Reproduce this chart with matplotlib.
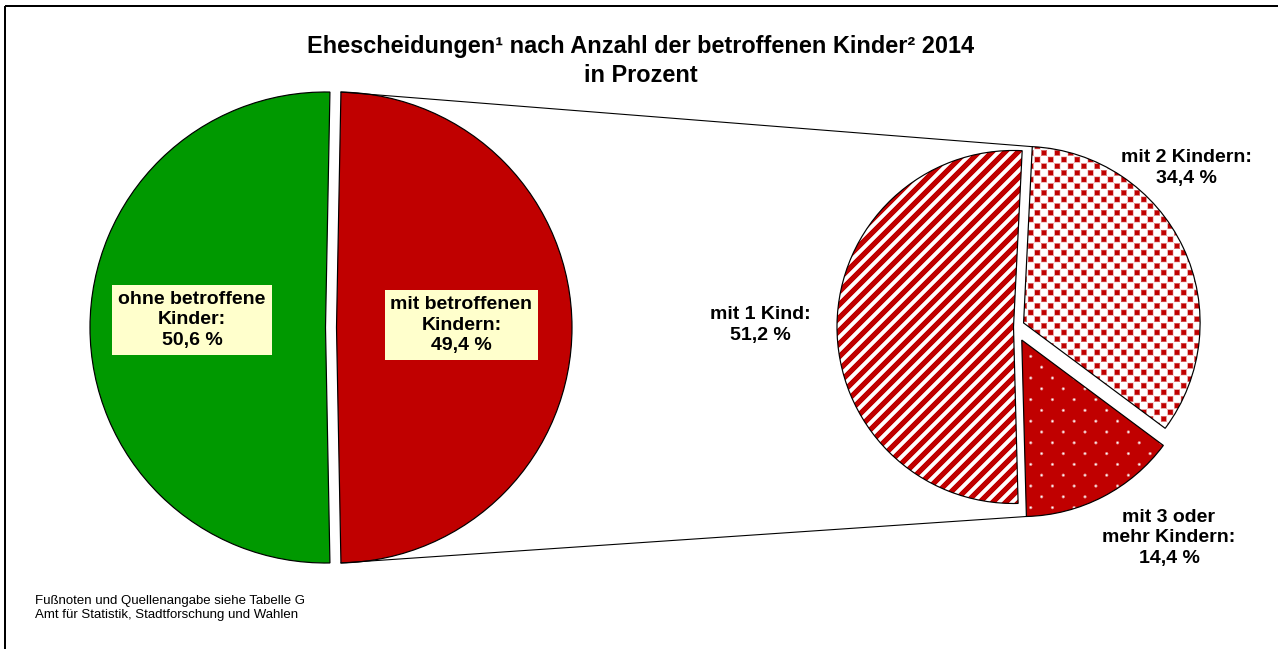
import numpy as np
import matplotlib
matplotlib.use('Agg')
import matplotlib.pyplot as plt

# ---------------- data ----------------
main_labels = ['ohne betroffene\nKinder:', 'mit betroffenen\nKindern:']
main_values = [50.6, 49.4]
sub_labels = ['mit 1 Kind:', 'mit 2 Kindern:', 'mit 3 oder\nmehr Kindern:']
sub_values = [51.2, 34.4, 14.4]
title_line1 = 'Ehescheidungen¹ nach Anzahl der betroffenen Kinder² 2014'
title_line2 = 'in Prozent'
footer_lines = ['Fußnoten und Quellenangabe siehe Tabelle G',
                'Amt für Statistik, Stadtforschung und Wahlen']


def fmt(v):
    return f'{v:.1f}'.replace('.', ',') + ' %'


# ---------------- figure ----------------
W, H = 1278, 649
DPI = 100
plt.rcParams['font.family'] = ['Liberation Sans', 'DejaVu Sans']


def pt(pixels):
    return pixels * 72.0 / DPI


fig = plt.figure(figsize=(W / DPI, H / DPI), dpi=DPI)
fig.patch.set_facecolor('white')
ax = fig.add_axes([0, 0, 1, 1])

GREEN = '#009900'
RED = '#C00000'
RED_RGB = np.array([192, 0, 0]) / 255.0
WHITE_RGB = np.array([1.0, 1.0, 1.0])

# main pie (explode given in pixels, the axes is in pixel units)
c1 = (331, H - 327.5)
r1 = 235.5
start1 = 180 - main_values[0] / sum(main_values) * 360 / 2
w_main, _ = ax.pie(main_values, colors=[GREEN, RED], startangle=start1,
                   counterclock=True, center=c1, radius=r1,
                   explode=[5.5, 5.5], frame=True,
                   wedgeprops=dict(edgecolor='black', linewidth=pt(1.2)))

# sub pie
c2 = (1015, H - 327)
r2 = 176.5
w_sub, _ = ax.pie(sub_values, colors=['white', 'white', 'white'], startangle=271.5,
                  counterclock=False, center=c2, radius=r2,
                  explode=[1.5, 9.5, 14.7], frame=True,
                  wedgeprops=dict(edgecolor='black', linewidth=pt(1.2)))

# ---------------- textures for the sub pie ----------------
Yi, Xi = np.mgrid[0:H, 0:W].astype(float) + 0.5


def blend(bg, fg, w):
    return bg[None, None, :] * (1 - w[..., None]) + fg[None, None, :] * w[..., None]


# stripes
P = 13.0
cs = np.cos(2 * np.pi * (Xi + Yi) / P)
ws = np.clip(0.5 + (cs + 0.2) * 1.7, 0, 1)
tex_stripes = blend(WHITE_RGB, RED_RGB, ws)


def lattice_d(pxs, pys, kind):
    dxA = (Xi + pxs / 2) % pxs - pxs / 2
    dyA = (Yi + pys / 2) % pys - pys / 2
    dxB = Xi % pxs - pxs / 2
    dyB = Yi % pys - pys / 2
    if kind == 'square':
        dA = np.maximum(np.abs(dxA), np.abs(dyA))
        dB = np.maximum(np.abs(dxB), np.abs(dyB))
    else:
        dA = np.hypot(dxA, dyA)
        dB = np.hypot(dxB, dyB)
    return np.minimum(dA, dB)


dq = lattice_d(13.3, 13.3, 'square')
wq = np.clip((2.6 + 0.7 - dq) / 1.4, 0, 1)
tex_squares = blend(WHITE_RGB, RED_RGB, wq)

dd = lattice_d(21.7, 21.6, 'dot')
wd = np.clip((1.2 + 0.9 - dd) / 1.8, 0, 1)
tex_dots = blend(RED_RGB, WHITE_RGB, wd)

for wedge, tex in zip(w_sub, [tex_stripes, tex_squares, tex_dots]):
    im = ax.imshow(tex, extent=(0, W, 0, H), origin='upper',
                   interpolation='nearest', zorder=2)
    im.set_clip_path(wedge)
    wedge.set_facecolor('none')
    wedge.set_zorder(3)

# ---------------- connector lines ----------------
red_w = w_main[1]
top_a = np.deg2rad(red_w.theta2)
bot_a = np.deg2rad(red_w.theta1)
p_top1 = (red_w.center[0] + red_w.r * np.cos(top_a), red_w.center[1] + red_w.r * np.sin(top_a))
p_bot1 = (red_w.center[0] + red_w.r * np.cos(bot_a), red_w.center[1] + red_w.r * np.sin(bot_a))
w2 = w_sub[1]
w3 = w_sub[2]
a2 = np.deg2rad(w2.theta2)
a3 = np.deg2rad(w3.theta1)
p_top2 = (w2.center[0] + w2.r * np.cos(a2), w2.center[1] + w2.r * np.sin(a2))
p_bot2 = (w3.center[0] + w3.r * np.cos(a3), w3.center[1] + w3.r * np.sin(a3))
ax.plot([p_top1[0], p_top2[0]], [p_top1[1], p_top2[1]], color='black', lw=pt(1.1), zorder=4)
ax.plot([p_bot1[0], p_bot2[0]], [p_bot1[1], p_bot2[1]], color='black', lw=pt(1.1), zorder=4)

# ---------------- labels ----------------
FS = pt(19.5)
LS = 1.3
box = dict(boxstyle='square,pad=0.3', fc='#FFFFCC', ec='none')
ax.text(192, H - 320, main_labels[0] + '\n' + fmt(main_values[0]), ha='center', va='center',
        fontsize=FS, fontweight='bold', linespacing=LS, bbox=box, zorder=5)
ax.text(461.5, H - 325, main_labels[1] + '\n' + fmt(main_values[1]), ha='center', va='center',
        fontsize=FS, fontweight='bold', linespacing=LS, bbox=box, zorder=5)

sub_pos = [(760, H - 325), (1186, H - 168), (1169, H - 538)]
for (x, y), lab, val in zip(sub_pos, sub_labels, sub_values):
    ax.text(x, y, lab + '\n' + fmt(val), ha='center', va='center',
            fontsize=FS, fontweight='bold', linespacing=LS, zorder=5)

# title
ax.text(640.5, H - 47, title_line1, ha='center', va='center', fontsize=pt(23.5), fontweight='bold')
ax.text(640.5, H - 75, title_line2, ha='center', va='center', fontsize=pt(23.5), fontweight='bold')

# footer
ax.text(35, H - 601, footer_lines[0], ha='left', va='center', fontsize=pt(13.3))
ax.text(35, H - 615, footer_lines[1], ha='left', va='center', fontsize=pt(13.3))

# frame (top and left edges visible)
ax.plot([5, W + 5], [H - 6, H - 6], color='black', lw=pt(2), zorder=6, solid_capstyle='butt')
ax.plot([5, 5], [H - 6, -5], color='black', lw=pt(2), zorder=6, solid_capstyle='butt')

ax.set_xlim(0, W)
ax.set_ylim(0, H)
ax.set_aspect('auto')
ax.axis('off')

fig.savefig('out.png', dpi=DPI, facecolor='white')
